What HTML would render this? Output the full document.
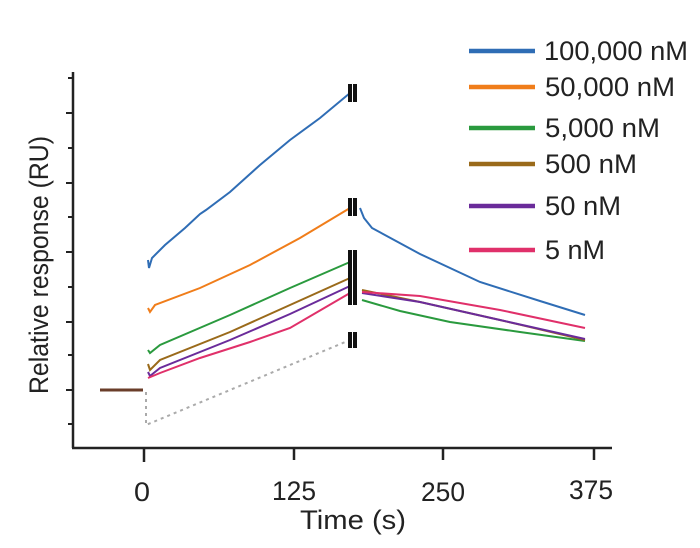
<!DOCTYPE html>
<html><head><style>body{margin:0;background:#fff}</style></head><body>
<svg width="700" height="543" xmlns="http://www.w3.org/2000/svg" font-family="Liberation Sans, Arial, sans-serif">
<rect width="700" height="543" fill="#fff"/>
<g stroke="#222" stroke-width="2.5" fill="none">
<line x1="73" y1="72" x2="73" y2="448"/>
<line x1="72" y1="448" x2="612" y2="448"/>
<line x1="144" y1="448" x2="144" y2="462"/>
<line x1="294" y1="448" x2="294" y2="460"/>
<line x1="443" y1="448" x2="443" y2="460"/>
<line x1="594" y1="448" x2="594" y2="460"/>
<g stroke-width="2">
<line x1="68" y1="78" x2="73" y2="78"/><line x1="66" y1="113" x2="73" y2="113"/>
<line x1="68" y1="148" x2="73" y2="148"/><line x1="66" y1="183" x2="73" y2="183"/>
<line x1="68" y1="217" x2="73" y2="217"/><line x1="66" y1="252" x2="73" y2="252"/>
<line x1="68" y1="287" x2="73" y2="287"/><line x1="66" y1="322" x2="73" y2="322"/>
<line x1="68" y1="355" x2="73" y2="355"/><line x1="66" y1="390" x2="73" y2="390"/>
<line x1="68" y1="424" x2="73" y2="424"/></g>
</g>
<g font-size="27" fill="#222" text-anchor="middle">
<text x="142" y="501" textLength="16" lengthAdjust="spacingAndGlyphs">0</text>
<text x="294" y="500" textLength="44" lengthAdjust="spacingAndGlyphs">125</text>
<text x="443" y="501" textLength="44" lengthAdjust="spacingAndGlyphs">250</text>
<text x="591" y="499" textLength="44" lengthAdjust="spacingAndGlyphs">375</text>
<text x="353" y="529" textLength="106" lengthAdjust="spacingAndGlyphs">Time (s)</text>
<text transform="translate(48,265) rotate(-90)" textLength="258" lengthAdjust="spacingAndGlyphs">Relative response (RU)</text>
</g>
<g fill="none" stroke-width="2">
<polyline stroke="#aaa" stroke-dasharray="3,4" points="146,392 146,425 350,340"/>
<polyline stroke="#6a3d2a" stroke-width="3" points="100,390 143,390"/>
<polyline stroke="#2f6db5" points="148,260 149,268 152,258 165,245 185,228 200,214 206,210 230,192 260,165 290,140 320,118 350,93"/>
<polyline stroke="#2f6db5" points="360,208 364,218 372,228 420,254 480,282 540,301 585,315"/>
<polyline stroke="#f07d1a" points="148,308 150,312 155,305 200,288 250,265 300,238 350,208"/>
<polyline stroke="#2a9a3e" points="148,350 150,353 160,345 230,315 290,288 350,262"/>
<polyline stroke="#2a9a3e" points="362,300 400,311 450,322 520,332 585,341"/>
<polyline stroke="#9a6a1a" points="148,364 150,370 160,360 230,332 290,305 350,278"/>
<polyline stroke="#9a6a1a" points="362,290 420,302 500,320 585,340"/>
<polyline stroke="#6a2b9a" points="148,372 150,376 160,368 230,340 290,314 350,286"/>
<polyline stroke="#6a2b9a" points="362,293 420,302 500,320 585,339"/>
<polyline stroke="#e0306a" points="148,378 160,373 200,358 250,342 290,328 350,293"/>
<polyline stroke="#e0306a" points="362,292 420,296 500,310 585,328"/>
</g>
<g fill="#111">
<rect x="348" y="84" width="4" height="18"/><rect x="353" y="84" width="4" height="18"/>
<rect x="348" y="198" width="4" height="18"/><rect x="353" y="198" width="4" height="18"/>
<rect x="348" y="250" width="4" height="55"/><rect x="353" y="250" width="4" height="55"/>
<rect x="348" y="332" width="4" height="16"/><rect x="353" y="332" width="4" height="16"/>
</g>
<g stroke-width="4.5">
<line x1="469" y1="51" x2="535" y2="51" stroke="#2f6db5"/>
<line x1="469" y1="87" x2="535" y2="87" stroke="#f07d1a"/>
<line x1="469" y1="128" x2="535" y2="128" stroke="#2a9a3e"/>
<line x1="469" y1="164" x2="535" y2="164" stroke="#9a6a1a"/>
<line x1="469" y1="206" x2="535" y2="206" stroke="#6a2b9a"/>
<line x1="469" y1="250" x2="535" y2="250" stroke="#e0306a"/>
</g>
<g font-size="27" fill="#222">
<text x="544" y="60" textLength="144" lengthAdjust="spacingAndGlyphs">100,000 nM</text>
<text x="545" y="96" textLength="130" lengthAdjust="spacingAndGlyphs">50,000 nM</text>
<text x="545" y="137" textLength="115" lengthAdjust="spacingAndGlyphs">5,000 nM</text>
<text x="545" y="173" textLength="92" lengthAdjust="spacingAndGlyphs">500 nM</text>
<text x="545" y="215" textLength="76" lengthAdjust="spacingAndGlyphs">50 nM</text>
<text x="545" y="259" textLength="60" lengthAdjust="spacingAndGlyphs">5 nM</text>
</g>
</svg>
</body></html>
